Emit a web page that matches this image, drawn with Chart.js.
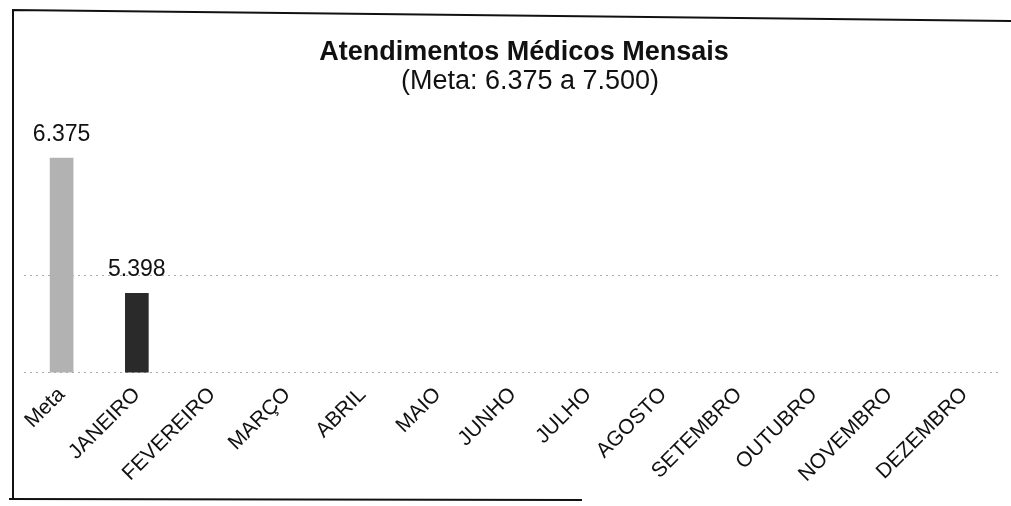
<!DOCTYPE html>
<html>
<head>
<meta charset="utf-8">
<script src="https://cdn.jsdelivr.net/npm/chart.js@4/dist/chart.umd.min.js"></script>
<style>
  html, body { margin: 0; padding: 0; background: #ffffff; }
  canvas { display: block; }
</style>
</head>
<body>
<canvas id="chart" width="1011" height="506"></canvas>
<script>
// ---- data ----
const TITLE = 'Atendimentos Médicos Mensais';
const SUBTITLE = '(Meta: 6.375 a 7.500)';
const categories = ['Meta', 'JANEIRO', 'FEVEREIRO', 'MARÇO', 'ABRIL', 'MAIO', 'JUNHO',
                    'JULHO', 'AGOSTO', 'SETEMBRO', 'OUTUBRO', 'NOVEMBRO', 'DEZEMBRO'];
const values = [6375, 5398, null, null, null, null, null, null, null, null, null, null, null];
const barColors = ['#b2b2b2', '#2a2a2a', '#2a2a2a', '#2a2a2a', '#2a2a2a', '#2a2a2a', '#2a2a2a',
                   '#2a2a2a', '#2a2a2a', '#2a2a2a', '#2a2a2a', '#2a2a2a', '#2a2a2a'];
const Y_MIN = 4826;
const Y_MAX = 6722;
const GRID_VALUES = [4826, 5528];

const FONT = '"Liberation Sans", Arial, Helvetica, sans-serif';

function fmtBR(v) {
  return String(v).replace(/\B(?=(\d{3})+(?!\d))/g, '.');
}

const headerPlugin = {
  id: 'header',
  afterDraw(chart) {
    const ctx = chart.ctx;
    ctx.save();
    ctx.fillStyle = '#111';
    ctx.textAlign = 'center';
    ctx.textBaseline = 'alphabetic';
    ctx.font = 'bold 27px ' + FONT;
    ctx.fillText(TITLE, 524, 60);
    ctx.font = '27px ' + FONT;
    ctx.fillText(SUBTITLE, 530, 89);
    ctx.restore();
  }
};

const valueLabelPlugin = {
  id: 'valueLabels',
  afterDatasetsDraw(chart) {
    const ctx = chart.ctx;
    ctx.save();
    ctx.fillStyle = '#111';
    ctx.textAlign = 'center';
    ctx.textBaseline = 'alphabetic';
    ctx.font = '23px ' + FONT;
    chart.data.datasets.forEach((ds, di) => {
      const meta = chart.getDatasetMeta(di);
      meta.data.forEach((bar, i) => {
        const v = ds.data[i];
        if (v === null || v === undefined) return;
        ctx.fillText(fmtBR(v), bar.x, bar.y - 17);
      });
    });
    ctx.restore();
  }
};

const framePlugin = {
  id: 'frame',
  afterDraw(chart) {
    const ctx = chart.ctx;
    ctx.save();
    ctx.strokeStyle = '#111';
    ctx.lineWidth = 2;
    ctx.beginPath();
    ctx.moveTo(13, 500);
    ctx.lineTo(13, 10);
    ctx.lineTo(1011, 21);
    ctx.stroke();
    ctx.beginPath();
    ctx.moveTo(9, 499);
    ctx.lineTo(582, 500);
    ctx.stroke();
    ctx.restore();
  }
};

new Chart(document.getElementById('chart'), {
  type: 'bar',
  data: {
    labels: categories,
    datasets: [{
      data: values,
      backgroundColor: barColors,
      borderWidth: 0,
      barThickness: 23
    }]
  },
  options: {
    responsive: false,
    animation: false,
    events: [],
    layout: { padding: { left: 24, right: 9, top: 110, bottom: 9 } },
    plugins: {
      legend: { display: false },
      title: { display: false },
      tooltip: { enabled: false }
    },
    scales: {
      x: {
        grid: { display: false, drawTicks: false },
        border: { display: false },
        ticks: {
          autoSkip: false,
          minRotation: 45,
          maxRotation: 45,
          padding: 10,
          color: '#111',
          font: { family: FONT, size: 21 }
        }
      },
      y: {
        min: Y_MIN,
        max: Y_MAX,
        afterBuildTicks(scale) {
          scale.ticks = GRID_VALUES.map(v => ({ value: v }));
        },
        grid: { color: '#a8a8a8', lineWidth: 1, drawTicks: false },
        border: { display: false, dash: [2, 4] },
        ticks: { display: false }
      }
    }
  },
  plugins: [headerPlugin, valueLabelPlugin, framePlugin]
});
</script>
</body>
</html>
